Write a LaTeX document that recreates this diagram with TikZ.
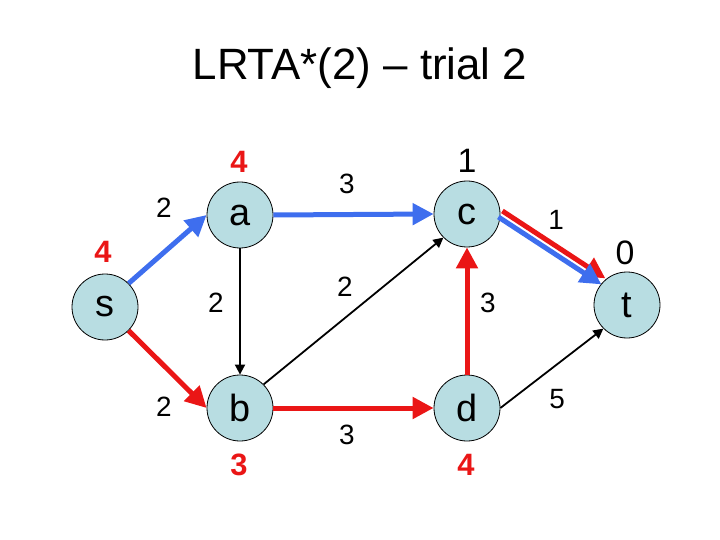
\documentclass[tikz,border=0pt]{standalone}
\usepackage{fontspec}
\setmainfont{Liberation Sans}
\usetikzlibrary{automata,positioning,arrows.meta}
\definecolor{nodeblue}{RGB}{184,221,226}
\definecolor{pathblue}{RGB}{62,110,238}
\definecolor{pathred}{RGB}{234,22,22}

\begin{document}
\begin{tikzpicture}[x=1bp,y=-1bp,
		every state/.style={draw,line width=0.8bp,fill=nodeblue,minimum size=66bp,inner sep=0pt,font=\fontsize{38}{38}\selectfont},
		cost/.style={font=\fontsize{28}{28}\selectfont},
		hval/.style={font=\fontsize{34}{34}\selectfont},
		upd/.style={text=pathred,font=\fontsize{31}{31}\selectfont\bfseries},
		thinarr/.style={-{Triangle[length=10bp,width=10bp]},line width=1.8bp},
		trail/.style={-{Triangle[length=21bp,width=21bp]},line width=5bp}]
		\useasboundingbox (0,0) rectangle (720,540);
		\draw (360,68) node (title) {\fontsize{44}{44}\selectfont LRTA*(2) – trial 2};

		\draw (105,307) node [state] (s) {s};
		\draw (240,215) node [state] (a) {a};
		\draw (240,408) node [state] (b) {b};
		\draw (467,214) node [state] (c) {c};
		\draw (467,408) node [state] (d) {d};
		\draw (627,305) node [state] (t) {t};

		% heuristic values
		\draw (103,252) node [upd] (hs) {4};
		\draw (239,162) node [upd] (ha) {4};
		\draw (239,465) node [upd] (hb) {3};
		\draw (466,465) node [upd] (hd) {4};
		\draw (467,161) node [hval] (hc) {1};
		\draw (625,253) node [hval] (ht) {0};

		% edge costs
		\draw (164,208) node [cost] (wsa) {2};
		\draw (164,407) node [cost] (wsb) {2};
		\draw (216,303) node [cost] (wab) {2};
		\draw (347,184) node [cost] (wac) {3};
		\draw (345,287) node [cost] (wbc) {2};
		\draw (347,435) node [cost] (wbd) {3};
		\draw (488,303) node [cost] (wdc) {3};
		\draw (556,220) node [cost] (wct) {1};
		\draw (557,399) node [cost] (wdt) {5};

		\draw[thinarr] (a.south) -- (b.north);
		\draw[thinarr] (b.north east) -- (c.south west);
		\draw[thinarr] (d.east) -- (t.south west);

		\draw[trail,pathred] (s.south east) -- (b.west);
		\draw[trail,pathred] (b.east) -- (d.west);
		\draw[trail,pathred] (d.north) -- (c.south);
		\draw[trail,pathred] ([shift={(2,-3)}]c.east) -- ([shift={(2,-3)}]t.north west);

		\draw[trail,pathblue] (s.north east) -- (a.west);
		\draw[trail,pathblue] (a.east) -- (c.west);
		\draw[trail,pathblue] ([shift={(-2,3)}]c.east) -- ([shift={(-2,3)}]t.north west);
	\end{tikzpicture}
\end{document}
